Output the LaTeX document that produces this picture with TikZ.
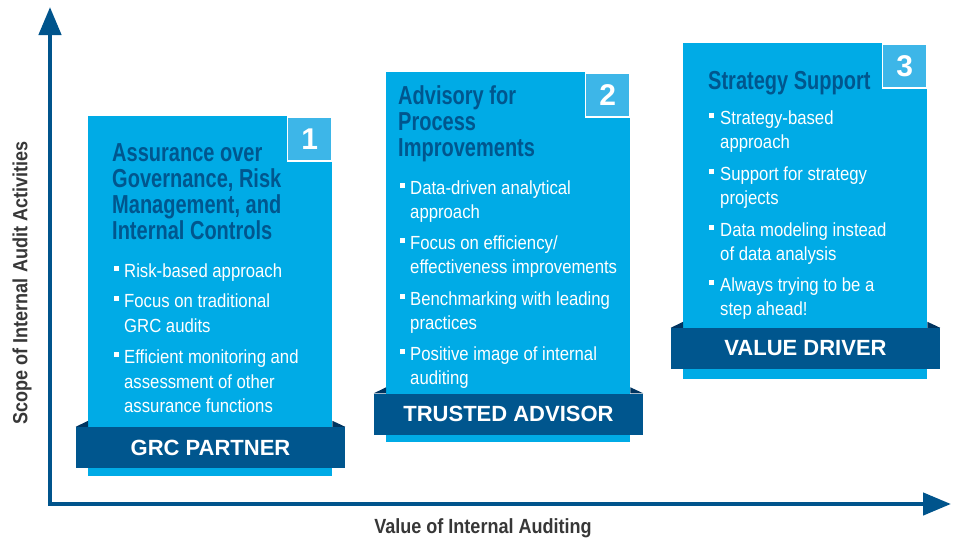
\documentclass[tikz,border=0pt]{standalone}
\usepackage{fontspec}
\setmainfont{Liberation Sans}[FakeStretch=0.88]
\newfontfamily\headfont{Liberation Sans}[FakeStretch=0.77]
\newfontfamily\bandfont{Liberation Sans}
\usetikzlibrary{arrows.meta}

\definecolor{cyanpanel}{RGB}{0,171,230}
\definecolor{numblue}{RGB}{61,182,232}
\definecolor{navy}{RGB}{0,86,142}
\definecolor{darknavy}{RGB}{0,52,96}
\definecolor{axisblue}{RGB}{0,84,140}
\definecolor{labelgray}{RGB}{55,55,55}

\begin{document}
\begin{tikzpicture}[x=1pt,y=-1pt,
  panel/.style={rectangle, fill=cyanpanel, anchor=north west, minimum width=244pt, inner sep=0pt},
  numbox/.style={rectangle, fill=numblue, draw=white, line width=1.5pt, anchor=north east, minimum size=44pt, inner sep=0pt, text=white, font=\bandfont\bfseries\fontsize{30}{30}\selectfont},
  ribbon/.style={rectangle, fill=navy, minimum width=269pt, minimum height=41pt, inner sep=0pt, text=white, font=\bandfont\bfseries\fontsize{22}{22}\selectfont},
  fold/.style={fill=darknavy},
  headtxt/.style={anchor=base west, inner sep=0pt, text=navy, font=\headfont\bfseries\fontsize{26}{26}\selectfont},
  bodytxt/.style={anchor=base west, inner sep=0pt, text=white, font=\fontsize{19}{24}\selectfont},
  sq/.style={rectangle, fill=white, minimum size=5pt, inner sep=0pt},
  axis/.style={draw=axisblue, line width=4.5pt, -{Triangle[length=28pt,width=22pt]}},
  axislabel/.style={text=labelgray, font=\bfseries\fontsize{20.5}{20.5}\selectfont}]
\useasboundingbox (0,0) rectangle (959,544);

% axes
\coordinate (origin) at (50,504);
\coordinate (ytop) at (50,7);
\coordinate (xend) at (951,504);
\draw[axis] (origin) -- (ytop);
\draw[axis] ([xshift=-2.25pt]origin) -- (xend);
\node[axislabel] (xlab) at (483,528) {Value of Internal Auditing};
\node[axislabel, rotate=90] (ylab) at (22,283) {Scope of Internal Audit Activities};

% panel 1
\node[panel, minimum height=360pt] (p1) at (88,116) {};
\node[numbox] (n1) at (p1.north east) {1};
\node[ribbon] (r1) at (210.5,447.5) {GRC PARTNER};
\fill[fold] (r1.north west) -- (r1.north west -| p1.west) -- ++(0,-6) -- cycle;
\fill[fold] (r1.north east) -- (r1.north east -| p1.east) -- ++(0,-6) -- cycle;
\node[headtxt] (h1a) at (112,161) {Assurance over};
\node[headtxt] (h1b) at (112,187) {Governance, Risk};
\node[headtxt] (h1c) at (112,213) {Management, and};
\node[headtxt] (h1d) at (112,239) {Internal Controls};
\node[sq] (s1a) at (116.8,268.5) {};
\node[bodytxt] (t1a) at (124,277) {Risk-based approach};
\node[sq] (s1b) at (116.8,298.5) {};
\node[bodytxt] (t1b) at (124,307) {Focus on traditional};
\node[bodytxt] (t1c) at (124,332) {GRC audits};
\node[sq] (s1c) at (116.8,354.5) {};
\node[bodytxt] (t1d) at (124,363) {Efficient monitoring and};
\node[bodytxt] (t1e) at (124,388) {assessment of other};
\node[bodytxt] (t1f) at (124,412) {assurance functions};

% panel 2
\node[panel, minimum height=370pt] (p2) at (386,72) {};
\node[numbox] (n2) at (p2.north east) {2};
\node[ribbon] (r2) at (508.5,414) {TRUSTED ADVISOR};
\fill[fold] (r2.north west) -- (r2.north west -| p2.west) -- ++(0,-6) -- cycle;
\fill[fold] (r2.north east) -- (r2.north east -| p2.east) -- ++(0,-6) -- cycle;
\node[headtxt] (h2a) at (398,104.5) {Advisory for};
\node[headtxt] (h2b) at (398,130.5) {Process};
\node[headtxt] (h2c) at (398,156.5) {Improvements};
\node[sq] (s2a) at (402.5,185.5) {};
\node[bodytxt] (t2a) at (410,194) {Data-driven analytical};
\node[bodytxt] (t2b) at (410,218) {approach};
\node[sq] (s2b) at (402.5,240.5) {};
\node[bodytxt] (t2c) at (410,249) {Focus on efficiency/};
\node[bodytxt] (t2d) at (410,273) {effectiveness improvements};
\node[sq] (s2c) at (402.5,296.5) {};
\node[bodytxt] (t2e) at (410,305) {Benchmarking with leading};
\node[bodytxt] (t2f) at (410,329) {practices};
\node[sq] (s2d) at (402.5,351.5) {};
\node[bodytxt] (t2g) at (410,360) {Positive image of internal};
\node[bodytxt] (t2h) at (410,384) {auditing};

% panel 3
\node[panel, minimum height=336pt] (p3) at (683,43) {};
\node[numbox] (n3) at (p3.north east) {3};
\node[ribbon] (r3) at (805.5,348.5) {VALUE DRIVER};
\fill[fold] (r3.north west) -- (r3.north west -| p3.west) -- ++(0,-6) -- cycle;
\fill[fold] (r3.north east) -- (r3.north east -| p3.east) -- ++(0,-6) -- cycle;
\node[headtxt] (h3a) at (708,89.3) {Strategy Support};
\node[sq] (s3a) at (711.8,115.5) {};
\node[bodytxt] (t3a) at (720,124) {Strategy-based};
\node[bodytxt] (t3b) at (720,148) {approach};
\node[sq] (s3b) at (711.8,171.5) {};
\node[bodytxt] (t3c) at (720,180) {Support for strategy};
\node[bodytxt] (t3d) at (720,204) {projects};
\node[sq] (s3c) at (711.8,227.5) {};
\node[bodytxt] (t3e) at (720,236) {Data modeling instead};
\node[bodytxt] (t3f) at (720,260) {of data analysis};
\node[sq] (s3d) at (711.8,282.5) {};
\node[bodytxt] (t3g) at (720,291) {Always trying to be a};
\node[bodytxt] (t3h) at (720,315) {step ahead!};
\end{tikzpicture}
\end{document}
